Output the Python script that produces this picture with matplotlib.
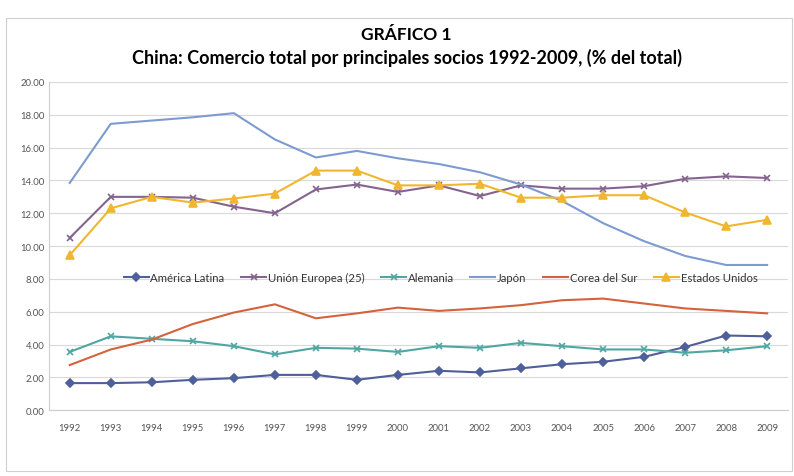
import numpy as np
import matplotlib.pyplot as plt
from matplotlib.patches import Rectangle

# --- data ---
years = [str(y) for y in range(1992, 2010)]

america_latina = [1.65, 1.65, 1.70, 1.85, 1.95, 2.15, 2.15, 1.85, 2.15, 2.40,
                  2.30, 2.55, 2.80, 2.95, 3.25, 3.85, 4.55, 4.50]
union_europea = [10.5, 13.0, 13.0, 12.95, 12.4, 12.0, 13.45, 13.75, 13.3, 13.7,
                 13.05, 13.7, 13.5, 13.5, 13.65, 14.1, 14.25, 14.15]
alemania = [3.55, 4.50, 4.35, 4.20, 3.90, 3.40, 3.80, 3.75, 3.55, 3.90,
            3.80, 4.10, 3.90, 3.70, 3.70, 3.50, 3.65, 3.90]
japon = [13.85, 17.45, 17.65, 17.85, 18.1, 16.5, 15.4, 15.8, 15.35, 15.0,
         14.5, 13.75, 12.75, 11.4, 10.3, 9.4, 8.85, 8.85]
corea = [2.75, 3.70, 4.30, 5.25, 5.95, 6.45, 5.60, 5.90, 6.25, 6.05,
         6.20, 6.40, 6.70, 6.80, 6.50, 6.20, 6.05, 5.90]
estados_unidos = [9.45, 12.3, 13.0, 12.65, 12.9, 13.2, 14.6, 14.6, 13.7, 13.7,
                  13.8, 12.95, 12.95, 13.1, 13.1, 12.05, 11.2, 11.6]

series = [
    ("América Latina", america_latina, "#4f5f99", "D", 4),
    ("Unión Europea (25)", union_europea, "#85638f", "x", 5),
    ("Alemania", alemania, "#4fa6a2", "x", 5),
    ("Japón", japon, "#7d9bd0", None, 0),
    ("Corea del Sur", corea, "#d5623c", None, 0),
    ("Estados Unidos", estados_unidos, "#f1b62f", "^", 6),
]

plt.rcParams['font.family'] = ['Lato', 'DejaVu Sans']

fig = plt.figure(figsize=(7.94, 4.77), dpi=100)
fig.patches.append(Rectangle((0.008, 0.01), 0.99, 0.95, transform=fig.transFigure,
                             fill=False, edgecolor="#cfcfcf", linewidth=0.8))

ax = fig.add_axes([0.062, 0.138, 0.93, 0.688])
x = np.arange(len(years))
for name, vals, color, marker, ms in series:
    ax.plot(x, vals, color=color, linewidth=1.5, marker=marker, markersize=ms,
            markeredgewidth=1.2, label=name)

ax.set_xlim(-0.5, len(years) - 0.5)
ax.set_ylim(0, 20)
ax.set_yticks(np.arange(0, 20.01, 2))
ax.set_yticklabels([f"{v:.2f}" for v in np.arange(0, 20.01, 2)])
ax.set_xticks(x)
ax.set_xticklabels(years)
ax.tick_params(axis="both", labelsize=6.8, colors="#555555", length=0)
ax.tick_params(axis="x", pad=9)
ax.grid(axis="y", color="#d9d9d9", linewidth=0.8)
ax.set_axisbelow(True)
for side in ["top", "right"]:
    ax.spines[side].set_visible(False)
ax.spines["left"].set_color("#cccccc")
ax.spines["bottom"].set_color("#cccccc")

ax.legend(loc="center", bbox_to_anchor=(0.53, 0.405), ncol=6, frameon=False,
          fontsize=8.2, handlelength=2.2, handletextpad=0.15, columnspacing=1.45,
          labelcolor="#333333")

fig.text(0.512, 0.926, "GRÁFICO 1", ha="center", va="center",
         fontsize=12.5, fontweight="bold")
fig.text(0.512, 0.878, "China: Comercio total por principales socios 1992-2009, (% del total)",
         ha="center", va="center", fontsize=13, fontweight="bold")

fig.savefig("out.png", dpi=100)
